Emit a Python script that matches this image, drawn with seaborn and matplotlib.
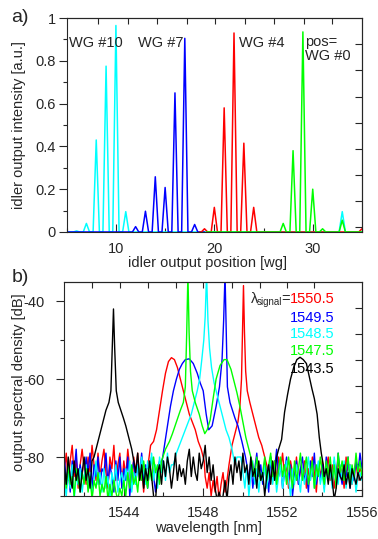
import numpy as np
import matplotlib
matplotlib.use("Agg")
import matplotlib.pyplot as plt
import seaborn as sns
from matplotlib.ticker import FuncFormatter

sns.set_style("ticks")
plt.rcParams["font.family"] = ["Liberation Sans", "DejaVu Sans"]
plt.rcParams["mathtext.fontset"] = "custom"
plt.rcParams["mathtext.rm"] = "Liberation Sans"
plt.rcParams["axes.unicode_minus"] = False

# ---- panel a: idler intensity per waveguide ----
cyan_pos = [6, 7, 8, 9, 10, 11, 33]
cyan_int = [0.005, 0.04, 0.43, 0.775, 0.965, 0.095, 0.095]
blue_pos = [12, 13, 14, 15, 16, 17, 18]
blue_int = [0.025, 0.097, 0.258, 0.208, 0.65, 0.905, 0.035]
red_pos = [19, 20, 21, 22, 23, 24, 35]
red_int = [0.015, 0.115, 0.58, 0.93, 0.415, 0.115, 0.015]
green_pos = [27, 28, 29, 30, 31, 33]
green_int = [0.04, 0.38, 0.935, 0.2, 0.015, 0.055]
wg_labels = ["WG #10", "WG #7", "WG #4", "pos=\nWG #0"]

# ---- panel b: output spectra (dB) ----
wl_grid = np.round(np.arange(1541.0, 1556.01, 0.1), 1)

red_floor = [-84, -79, -86, -81, -77, -85, -80, -88, -82, -78,
             -83, -87, -80, -84, -77, -82, -86, -79, -85, -81,
             -78, -84, -88, -80, -83, -77, -86, -82, -79, -87,
             -81, -85, -78, -83, -88, -80, -84, -79, -86, -82,
             -89, -83, -86, -80, -84, -79, -85, -82, -88, -81,
             -80, -80, -80, -80, -80, -80, -80, -80, -80, -80,
             -80, -80, -80, -80, -80, -80, -80, -80, -80, -80,
             -82, -85, -88, -84, -90, -86, -89, -85, -91, -87,
             -84, -89, -86, -82, -85, -80, -83, -79, -82, -78,
             -80, -80, -80, -80, -80, -80, -80, -80, -80, -80,
             -80, -82, -79, -83, -80, -84, -81, -86, -80, -83,
             -79, -85, -82, -88, -81, -84, -86, -80, -87, -83,
             -85, -81, -88, -83, -86, -80, -84, -89, -82, -85,
             -81, -87, -83, -80, -86, -82, -88, -84, -81, -85,
             -83, -88, -80, -85, -82, -87, -84, -81, -86, -83, -84]
red_hump_nm = [1545.2, 1545.35, 1545.5, 1545.65, 1545.8, 1545.95, 1546.1, 1546.25, 1546.4, 1546.55,
               1546.7, 1546.85, 1547.0, 1547.15, 1547.3, 1547.45, 1547.6, 1547.75, 1547.9, 1548.05]
red_hump_db = [-83, -77, -76, -73, -68, -63, -58.5, -55.5, -54.5, -55,
               -57, -60, -63, -66, -69, -71, -73, -76, -78, -81]
red_sig_nm = [1549.3, 1549.45, 1549.6, 1549.75, 1549.85, 1549.93, 1549.98, 1550.03, 1550.08,
              1550.14, 1550.22, 1550.35, 1550.5, 1550.65, 1550.8, 1550.95, 1551.1, 1551.25]
red_sig_db = [-82, -77, -74, -71, -67, -60, -48, -36, -48,
              -58, -63, -66, -69, -72, -75, -77, -80, -83]

blue_floor = [-80, -86, -83, -89, -81, -84, -78, -87, -82, -85,
              -86, -80, -84, -79, -88, -82, -85, -80, -87, -83,
              -84, -79, -87, -82, -85, -89, -81, -86, -80, -88,
              -83, -86, -80, -90, -84, -81, -87, -82, -85, -79,
              -86, -82, -88, -83, -80, -85, -89, -84, -81, -87,
              -80, -80, -80, -80, -80, -80, -80, -80, -80, -80,
              -80, -80, -80, -80, -80, -80, -80, -80, -80, -80,
              -80, -80, -80, -80, -80, -80, -80, -80, -80, -80,
              -80, -80, -80, -80, -80, -80, -80, -80, -80, -80,
              -80, -80, -82, -86, -81, -88, -83, -79, -85, -82,
              -87, -81, -84, -89, -80, -86, -83, -78, -85, -82,
              -88, -84, -80, -86, -82, -90, -85, -81, -87, -83,
              -80, -86, -84, -89, -81, -85, -79, -87, -83, -86,
              -82, -88, -80, -85, -83, -87, -81, -86, -79, -84,
              -87, -82, -85, -80, -88, -83, -86, -81, -84, -79, -83]
blue_sig_nm = [1545.9, 1546.05, 1546.2, 1546.35, 1546.5, 1546.65, 1546.8, 1546.95, 1547.1, 1547.3,
               1547.5, 1547.7, 1547.85, 1548.0, 1548.15, 1548.28, 1548.45, 1548.65, 1548.82, 1548.95,
               1549.03, 1549.1, 1549.16, 1549.22, 1549.35, 1549.6, 1549.75, 1549.95, 1550.13]
blue_sig_db = [-82, -77, -72, -67, -63, -60, -57.5, -56, -55, -54.8,
               -56, -58.5, -61, -63, -69, -73, -72, -67, -62, -55,
               -45, -33, -48, -62, -66, -70, -72, -76, -80]

cyan_floor = [-86, -90, -84, -88, -82, -91, -85, -87, -83, -89,
              -85, -82, -88, -84, -90, -86, -81, -87, -84, -89,
              -83, -88, -85, -91, -84, -87, -82, -89, -86, -84,
              -88, -83, -86, -81, -89, -84, -87, -82, -85, -80,
              -84, -87, -81, -85, -79, -86, -82, -88, -80, -84,
              -81, -86, -79, -84, -82, -87, -80, -85, -80, -80,
              -80, -80, -80, -80, -80, -80, -80, -80, -80, -80,
              -80, -80, -80, -80, -80, -80, -80, -80, -80, -80,
              -80, -80, -80, -80, -80, -80, -80, -80, -80, -80,
              -84, -88, -82, -90, -85, -81, -87, -83, -89, -84,
              -86, -82, -88, -84, -80, -87, -83, -89, -85, -82,
              -88, -84, -81, -86, -90, -83, -87, -82, -85, -89,
              -83, -87, -84, -80, -86, -82, -88, -85, -81, -87,
              -84, -89, -82, -86, -83, -88, -80, -85, -87, -82,
              -86, -81, -88, -84, -82, -87, -83, -89, -85, -84, -86]
cyan_sig_nm = [1546.5, 1546.65, 1546.8, 1546.95, 1547.1, 1547.25, 1547.4, 1547.55, 1547.7, 1547.82,
               1547.93, 1548.03, 1548.1, 1548.17, 1548.24, 1548.32, 1548.42, 1548.55, 1548.7, 1548.85,
               1549.0, 1549.15, 1549.3, 1549.45, 1549.6]
cyan_sig_db = [-82, -79, -77, -75, -73, -71, -69, -66, -63, -60,
               -55, -50, -44, -33, -45, -52, -57, -61, -64, -67,
               -70, -73, -75, -78, -82]

green_floor = [-84, -88, -82, -87, -85, -90, -83, -86, -89, -84,
               -87, -83, -89, -85, -91, -86, -88, -84, -90, -87,
               -89, -85, -91, -87, -90, -86, -89, -91, -88, -90,
               -86, -90, -84, -88, -82, -87, -85, -89, -83, -86,
               -81, -85, -88, -83, -86, -80, -84, -82, -87, -81,
               -80, -80, -80, -80, -80, -80, -80, -80, -80, -80,
               -80, -80, -80, -80, -80, -80, -80, -80, -80, -80,
               -80, -80, -80, -80, -80, -80, -80, -80, -80, -80,
               -80, -80, -80, -80, -80, -80, -80, -80, -80, -80,
               -80, -80, -80, -80, -80, -82, -85, -80, -84, -86,
               -84, -80, -86, -82, -79, -85, -81, -87, -83, -80,
               -85, -82, -87, -80, -84, -88, -81, -86, -83, -79,
               -86, -83, -80, -87, -84, -81, -88, -82, -85, -80,
               -84, -87, -81, -85, -80, -86, -82, -88, -79, -84,
               -81, -86, -83, -80, -87, -82, -85, -79, -84, -81, -85]
green_sig_nm = [1545.9, 1546.1, 1546.3, 1546.45, 1546.65, 1546.85, 1547.0, 1547.1, 1547.17, 1547.23,
                1547.29, 1547.36, 1547.45, 1547.6, 1547.8, 1547.95, 1548.08, 1548.2, 1548.35, 1548.5,
                1548.65, 1548.85, 1549.05, 1549.2, 1549.4, 1549.55, 1549.7, 1549.85, 1550.0, 1550.15,
                1550.3, 1550.45]
green_sig_db = [-81, -78, -76, -74, -71, -68, -66, -62, -48, -33,
                -48, -58, -63, -66, -69, -72, -74, -73, -70.5, -65,
                -60, -56.5, -55, -55, -57.5, -60.5, -63.5, -67, -71, -75,
                -78, -81]

black_floor = [-82, -87, -80, -85, -88, -81, -86, -83, -89, -84,
               -80, -86, -83, -88, -81, -85, -79, -80, -80, -80,
               -80, -80, -80, -80, -80, -80, -80, -80, -80, -80,
               -80, -80, -80, -80, -80, -80, -84, -79, -86, -82,
               -88, -83, -86, -81, -85, -90, -91, -84, -82, -87,
               -81, -85, -80, -83, -88, -84, -79, -86, -82, -85,
               -83, -87, -81, -78, -85, -80, -84, -86, -79, -83,
               -81, -77, -84, -80, -86, -82, -88, -91, -89, -91,
               -90, -86, -91, -85, -82, -87, -80, -84, -81, -86,
               -79, -84, -82, -87, -80, -85, -83, -88, -81, -86,
               -84, -90, -85, -82, -87, -81, -86, -83, -84, -80,
               -80, -80, -80, -80, -80, -80, -80, -80, -80, -80,
               -80, -80, -80, -80, -80, -80, -80, -80, -80, -80,
               -81, -85, -83, -87, -82, -86, -91, -88, -83, -85,
               -86, -82, -87, -84, -88, -83, -85, -87, -84, -86, -85]
black_sig_nm = [1542.5, 1542.65, 1542.8, 1542.95, 1543.1, 1543.25, 1543.35, 1543.42, 1543.48, 1543.54,
                1543.62, 1543.72, 1543.85, 1543.98, 1544.1, 1544.25, 1544.4, 1544.5]
black_sig_db = [-80, -77, -74, -71, -68, -66, -63, -52, -42, -52,
                -63, -66, -68, -70, -72, -75, -78, -81]
black_hump_nm = [1551.7, 1551.8, 1551.95, 1552.1, 1552.25, 1552.4, 1552.56, 1552.72, 1552.88, 1553.04,
                 1553.2, 1553.35, 1553.48, 1553.6, 1553.74, 1553.85, 1553.95, 1554.05]
black_hump_db = [-80, -78, -75.5, -68.5, -64, -60, -57, -55, -54.4, -55,
                 -56, -59.5, -62.5, -65, -69, -75, -79, -82]

signal_labels = ["1550.5", "1549.5", "1548.5", "1547.5", "1543.5"]

FS = 10.5


def peak_trace(pos, val, start, end, hw=0.32):
    x, y = [start], [0.0]
    for p, v in zip(pos, val):
        x += [p - hw, p, p + hw]
        y += [0.0, v, 0.0]
    x.append(end)
    y.append(0.0)
    return x, y


def spectrum(floor, segments):
    pts = [(w, d) for w, d in zip(wl_grid, floor)
           if not any(s[0] <= w <= s[-1] for s, _ in segments)]
    for s_nm, s_db in segments:
        pts += list(zip(s_nm, s_db))
    pts.sort()
    return [p[0] for p in pts], [p[1] for p in pts]


fig = plt.figure(figsize=(3.78, 5.39), dpi=100)
ax1 = fig.add_axes([0.1765, 0.5696, 0.781, 0.397])
ax2 = fig.add_axes([0.170, 0.0798, 0.7876, 0.3976])

# panel a
traces_a = [
    ("#00ffff", cyan_pos, cyan_int, 5.0, 35.5),
    ("#0000ff", blue_pos, blue_int, 5.0, 19.0),
    ("#ff0000", red_pos, red_int, 18.5, 35.5),
    ("#00ff00", green_pos, green_int, 19.2, 35.5),
]
for col, pos, val, start, end in traces_a:
    x, y = peak_trace(pos, val, start, end)
    sns.lineplot(x=x, y=y, ax=ax1, color=col, lw=1.1, estimator=None, sort=False)

ax1.set_xlim(5, 35)
ax1.set_ylim(0, 1)
ax1.set_xticks([10, 20, 30])
ax1.set_xticks([5, 15, 25, 35], minor=True)
ax1.set_yticks([0, 0.2, 0.4, 0.6, 0.8, 1.0])
ax1.set_yticks([0.1, 0.3, 0.5, 0.7, 0.9], minor=True)
ax1.yaxis.set_major_formatter(FuncFormatter(lambda v, p: f"{v:g}"))
ax1.tick_params(axis="x", which="major", direction="in", length=6, width=0.8, labelsize=FS, pad=7)
ax1.tick_params(axis="x", which="minor", direction="in", length=3, width=0.8)
ax1.tick_params(axis="y", which="major", direction="out", length=6, width=0.8, labelsize=FS, pad=2)
ax1.tick_params(axis="y", which="minor", direction="out", length=3, width=0.8)
ax1.set_xlabel("idler output position [wg]", fontsize=FS)
ax1.set_ylabel("idler output intensity [a.u.]", fontsize=FS)
ax1.xaxis.set_label_coords(0.477, -0.11)
ax1.yaxis.set_label_coords(-0.138, 0.5)

top1 = ax1.secondary_xaxis("top")
top1.set_xticks([8.2, 11.2, 14.2, 17.2, 20.1, 23.1, 26.1, 29.1, 32.0])
top1.tick_params(direction="in", length=4, width=0.8, labeltop=False)
right1 = ax1.secondary_yaxis("right")
right1.set_yticks([0.025, 0.146, 0.267, 0.388, 0.509, 0.63, 0.757, 0.878])
right1.tick_params(direction="in", length=5, width=0.8, labelright=False)

text_x = [5.25, 12.2, 22.5, 29.2]
text_y = [0.885, 0.885, 0.885, 0.857]
for lab, tx, ty in zip(wg_labels, text_x, text_y):
    ax1.text(tx, ty, lab, fontsize=FS, va="center", ha="left", linespacing=1.0)

# panel b
traces_b = [
    ("#ff0000", red_floor, [(red_hump_nm, red_hump_db), (red_sig_nm, red_sig_db)]),
    ("#0000ff", blue_floor, [(blue_sig_nm, blue_sig_db)]),
    ("#00ffff", cyan_floor, [(cyan_sig_nm, cyan_sig_db)]),
    ("#00ff00", green_floor, [(green_sig_nm, green_sig_db)]),
    ("#000000", black_floor, [(black_sig_nm, black_sig_db), (black_hump_nm, black_hump_db)]),
]
for col, floor, segs in traces_b:
    x, y = spectrum(floor, segs)
    sns.lineplot(x=x, y=y, ax=ax2, color=col, lw=1.0, estimator=None, sort=False)

ax2.set_xlim(1541, 1556)
ax2.set_ylim(-90, -35)
ax2.set_xticks([1544, 1548, 1552, 1556])
ax2.set_xticks([1542, 1546, 1550, 1554], minor=True)
ax2.set_yticks([-40, -60, -80])
ax2.set_yticks([-50, -70, -90], minor=True)
ax2.tick_params(axis="x", which="major", direction="in", length=6, width=0.8, labelsize=FS, pad=7)
ax2.tick_params(axis="x", which="minor", direction="in", length=3, width=0.8)
ax2.tick_params(axis="y", which="major", direction="out", length=6, width=0.8, labelsize=FS, pad=8)
ax2.tick_params(axis="y", which="minor", direction="out", length=3, width=0.8)
ax2.set_xlabel("wavelength [nm]", fontsize=FS)
ax2.set_ylabel("output spectral density [dB]", fontsize=FS)
ax2.xaxis.set_label_coords(0.486, -0.117)
ax2.yaxis.set_label_coords(-0.13, 0.53)

top2 = ax2.secondary_xaxis("top")
top2.set_xticks([1542.41, 1543.82, 1545.22, 1546.62, 1547.98, 1549.46, 1550.84, 1552.22, 1553.6])
top2.tick_params(direction="in", length=4, width=0.8, labeltop=False)
right2 = ax2.secondary_yaxis("right")
right2.set_yticks([-41.7, -48.3, -55.1, -61.7, -68.5, -75.2, -81.8, -88.5])
right2.tick_params(direction="in", length=5, width=0.8, labelright=False)

label_cols = ["#ff0000", "#0000ff", "#00ffff", "#00ff00", "#000000"]
label_y = [-39.5, -44.3, -48.5, -52.8, -57.3]
for lab, col, ty in zip(signal_labels, label_cols, label_y):
    ax2.text(1552.37, ty, lab, color=col, fontsize=FS, va="center", ha="left")
# lambda_signal= label, built from three pieces so the subscript stays small
ax2.annotate("=", (1552.37, -39.5), xytext=(0, 0), textcoords="offset pixels",
             fontsize=FS, va="center", ha="right")
ax2.annotate("signal", (1552.37, -39.5), xytext=(-8, -3), textcoords="offset pixels",
             fontsize=7, va="center", ha="right")
ax2.annotate("λ", (1552.37, -39.5), xytext=(-32, 0), textcoords="offset pixels",
             fontsize=FS, va="center", ha="right")

for ax in (ax1, ax2):
    for sp in ax.spines.values():
        sp.set_visible(True)
        sp.set_linewidth(0.8)
for sec in (top1, right1, top2, right2):
    for sp in sec.spines.values():
        sp.set_linewidth(0.8)

fig.text(0.03, 1 - 17 / 539, "a)", fontsize=14, va="center", ha="left")
fig.text(0.03, 1 - 277 / 539, "b)", fontsize=14, va="center", ha="left")

fig.savefig("out.png", dpi=100)
